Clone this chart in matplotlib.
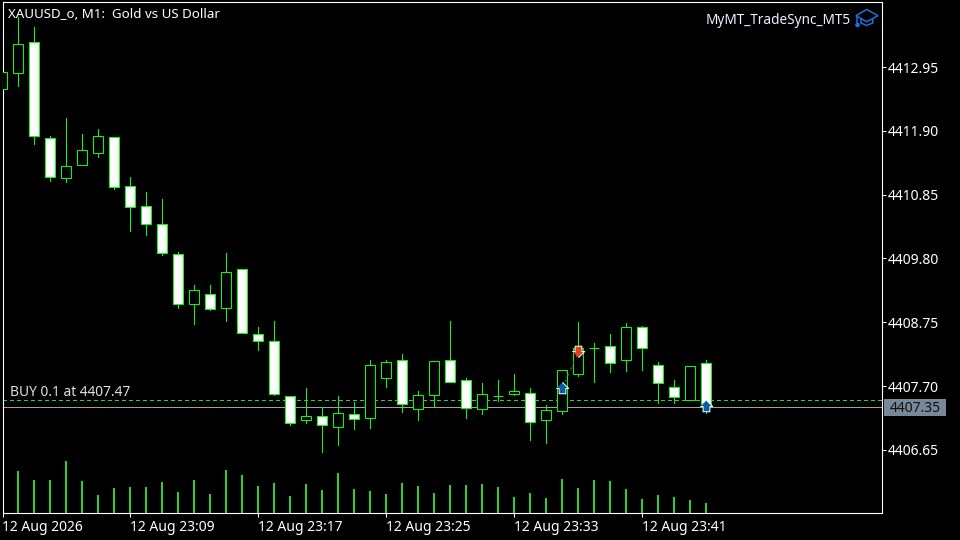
import matplotlib
matplotlib.use("Agg")
import matplotlib.pyplot as plt
from matplotlib.patches import Polygon, Circle, Rectangle
from matplotlib.lines import Line2D
from matplotlib.transforms import Affine2D

plt.rcParams['font.family'] = ['Noto Sans', 'DejaVu Sans']

# one minute candles, price minus 4400
opens = [12.59, 12.85, 13.36, 11.78, 11.12, 11.34, 11.53, 11.80, 10.99, 10.66, 10.37, 9.87, 9.05, 9.21, 8.98,
         9.62, 8.56, 8.44, 7.54, 7.14, 7.21, 7.03, 7.24, 7.17, 7.83, 8.13, 7.32, 7.55, 8.13, 7.80, 7.32, 7.54,
         7.57, 7.59, 7.14, 7.29, 7.90, 8.33, 8.36, 8.13, 8.67, 8.05, 7.68, 7.47, 8.08]
highs = [12.87, 13.77, 13.61, 11.81, 12.11, 11.85, 11.93, 11.80, 11.14, 10.89, 10.78, 9.90, 9.36, 9.36, 9.89,
         9.62, 8.67, 8.77, 7.54, 7.67, 7.35, 7.54, 7.44, 8.13, 8.13, 8.23, 7.62, 8.11, 8.77, 7.83, 7.75, 7.80,
         7.90, 7.67, 7.39, 7.96, 8.75, 8.41, 8.56, 8.74, 8.69, 8.10, 7.80, 8.03, 8.13]
lows = [12.59, 12.64, 11.68, 11.07, 11.06, 11.34, 11.47, 10.94, 10.25, 10.18, 9.86, 8.98, 8.72, 8.95, 8.77,
        8.57, 8.29, 7.55, 7.06, 7.09, 6.61, 6.73, 6.99, 7.01, 7.68, 7.27, 7.14, 7.35, 7.77, 7.17, 7.24, 7.45,
        7.55, 6.81, 6.76, 7.24, 7.87, 7.77, 7.93, 7.95, 7.96, 7.42, 7.42, 7.47, 7.26]
closes = [12.87, 13.33, 11.81, 11.14, 11.32, 11.58, 11.81, 10.97, 10.65, 10.37, 9.89, 9.05, 9.28, 8.97, 9.58,
          8.57, 8.44, 7.57, 7.09, 7.21, 7.06, 7.26, 7.16, 8.05, 8.10, 7.40, 7.55, 8.11, 7.77, 7.34, 7.57, 7.54,
          7.62, 7.11, 7.31, 7.96, 8.33, 8.33, 8.08, 8.67, 8.33, 7.75, 7.52, 8.03, 7.35]
volumes = [0, 42, 33, 33, 52, 32, 18, 25, 26, 26, 31, 21, 33, 19, 43, 38, 27, 30, 17, 29, 23, 40, 24,
           22, 19, 30, 27, 20, 28, 28, 29, 26, 16, 20, 15, 34, 25, 33, 32, 24, 14, 18, 16, 13, 10]

price_ticks = [12.95, 11.90, 10.85, 9.80, 8.75, 7.70, 6.65]
time_ticks = [0, 8, 16, 24, 32, 40]
time_labels = ["12 Aug 2026", "12 Aug 23:09", "12 Aug 23:17", "12 Aug 23:25", "12 Aug 23:33", "12 Aug 23:41"]

position_price = 7.47
last_price = 7.35
buy_bars = [35, 44]
buy_marks = [7.67, 7.37]
sell_bars = [36]
sell_marks = [8.27]

GREEN = "#00ff00"
VOL_GREEN = "#32cd32"

fig = plt.figure(figsize=(9.6, 5.4), dpi=100, facecolor="black")
rect = [2.5 / 960, 1 - 513 / 540, 880 / 960, 511 / 540]

ax_vol = fig.add_axes(rect, facecolor="black")
ax_vol.set_xlim(0, 55)
ax_vol.set_ylim(0, 511)
ax_vol.axis("off")
ax = fig.add_axes(rect, facecolor="none")

bars = list(range(len(opens)))
ax_vol.vlines([b - 0.03 for b in bars], 0, volumes, color=VOL_GREEN, lw=1.44, antialiased=False)

ax.vlines(bars, lows, highs, color=GREEN, lw=0.72, antialiased=False, zorder=2)
for b in bars:
    o, c = opens[b], closes[b]
    fill = "white" if c < o else "black"
    ax.add_patch(Rectangle((b - 0.3125, min(o, c)), 0.625, abs(c - o), facecolor=fill, edgecolor=GREEN,
                           lw=0.72, antialiased=True, zorder=3))

ax.axhline(position_price, color=VOL_GREEN, lw=0.72, dashes=(3, 3), antialiased=False, zorder=1)
ax.axhline(last_price, color="#a0a0a0", lw=0.72, antialiased=False, zorder=1)

# link between the two trades
ax.plot([buy_bars[0], sell_bars[0]], [buy_marks[0], sell_marks[0]], color="#0f6cb5", lw=0.8,
        dashes=(2, 4), zorder=4)
up_arrow = [(0, 1), (1, 0), (0.55, 0), (0.55, -0.85), (-0.55, -0.85), (-0.55, 0), (-1, 0)]
down_arrow = [(x, -y) for x, y in up_arrow]
ax.scatter(buy_bars, buy_marks, marker=up_arrow, s=80, color="#0a5ea8", edgecolor="white", lw=0.72, zorder=5)
ax.scatter(sell_bars, sell_marks, marker=down_arrow, s=80, color="#e2401a", edgecolor="white", lw=0.72, zorder=5)

ax.set_xlim(0, 55)
ax.set_ylim(5.61, 14.02)
ax.set_xticks(time_ticks)
ax.set_xticklabels(time_labels, ha="left")
ax.yaxis.tick_right()
ax.set_yticks(price_ticks)
ax.set_yticklabels(["%.2f" % (4400 + p) for p in price_ticks])
ax.tick_params(axis="x", colors="white", length=3, width=0.72, labelsize=10, pad=2)
ax.tick_params(axis="y", colors="white", length=3, width=0.72, labelsize=10, pad=1)
for s in ax.spines.values():
    s.set_color("white")
    s.set_linewidth(0.8)

# pixel coords for the overlays
px = Affine2D().scale(1 / 960, -1 / 540).translate(0, 1) + fig.transFigure

fig.text(8, 14.5, "XAUUSD_o, M1:  Gold vs US Dollar", transform=px, color="white", fontsize=9.6, va="center")
fig.text(851, 20, "MyMT_TradeSync_MT5", transform=px, color="#eaf2ff", fontsize=9.8, va="center", ha="right")
fig.text(10, 393, "BUY 0.1 at %.2f" % (4400 + position_price), transform=px, color="#e0e0e0", fontsize=9.9,
         va="center")

fig.add_artist(Rectangle((884, 399), 62, 17, transform=px, facecolor="#778899", edgecolor="none"))
fig.text(915, 408.5, "%.2f" % (4400 + last_price), transform=px, color="#101010", fontsize=10, va="center",
         ha="center")

# graduation cap
CAP = "#1f6fe0"
fig.add_artist(Polygon([(861, 18), (861, 23), (866.7, 25.5), (872.7, 23), (872.7, 18)], closed=False, transform=px,
                       facecolor="none", edgecolor=CAP, lw=1.1))
fig.add_artist(Polygon([(866.7, 9.5), (878, 15.7), (866.7, 21.7), (856, 15.7)], transform=px,
                       facecolor="black", edgecolor=CAP, lw=1.1))
fig.add_artist(Line2D([857, 857], [16, 24], transform=px, color=CAP, lw=1.1))
fig.add_artist(Circle((857.5, 25), 1.6, transform=px, color=CAP))

fig.savefig("out.png", dpi=100, facecolor="black")
